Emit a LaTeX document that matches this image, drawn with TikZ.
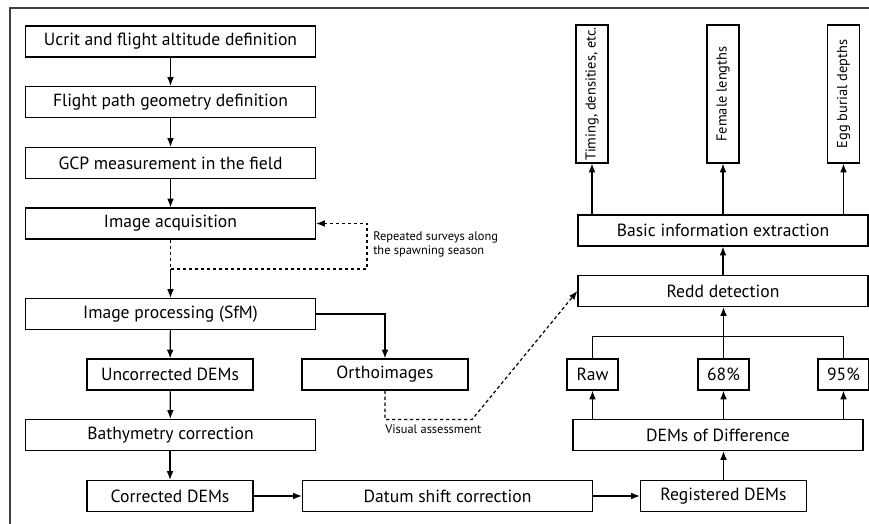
\documentclass[tikz,border=0pt]{standalone}
\usepackage{fontspec}
\setmainfont{PT Sans}
\usetikzlibrary{arrows.meta}

\begin{document}
\begin{tikzpicture}[x=0.75pt,y=-0.75pt,
	box/.style={draw, line width=0.9pt, minimum height=23.25pt, inner sep=0pt, font=\fontsize{13.2}{15}\selectfont},
	wide/.style={box, minimum width=217.5pt},
	mid/.style={box, minimum width=124.5pt},
	small/.style={box, minimum width=38.25pt},
	tall/.style={box, rotate=90, minimum width=103.5pt, minimum height=24pt, font=\fontsize{10.8}{12}\selectfont},
	arr/.style={line width=0.9pt, -{Latex[length=6.5pt,width=5pt]}},
	ln/.style={line width=0.9pt},
	dsh/.style={line width=0.9pt, dash pattern=on 2.5pt off 2pt},
	note/.style={font=\fontsize{9.3}{10.5}\selectfont, align=left, inner sep=0pt}]
	\useasboundingbox (0,0) rectangle (869,524);
	
	% frame
	\draw[line width=1.2pt, black!75] (869,8) -- (10,8) -- (10,524);
	
	% left column
	\node[wide] (ucrit) at (170.5,41.5) {Ucrit and flight altitude definition};
	\node[wide] (path) at (170.5,102) {Flight path geometry definition};
	\node[wide] (gcp) at (170.5,163) {GCP measurement in the field};
	\node[wide] (acq) at (170.5,223.5) {Image acquisition};
	\node[wide] (proc) at (170.5,314) {Image processing (SfM)};
	\node[mid] (uncorr) at (170,374.5) {Uncorrected DEMs};
	\node[mid] (ortho) at (385,374.5) {Orthoimages};
	\node[wide] (bathy) at (170.5,435) {Bathymetry correction};
	\node[mid] (corr) at (170,496) {Corrected DEMs};
	\node[wide] (datum) at (447.5,496) {Datum shift correction};
	
	% right column
	\node[mid] (regist) at (723.5,496) {Registered DEMs};
	\node[wide] (dod) at (718,435) {DEMs of Difference};
	\node[small] (raw) at (592.5,374.5) {Raw};
	\node[small] (p68) at (723.5,374.5) {68\%};
	\node[small] (p95) at (843.5,374.5) {95\%};
	\node[wide] (redd) at (723,291) {Redd detection};
	\node[wide] (basic) at (723,230.5) {Basic information extraction};
	\node[tall] (timing) at (592,94) {Timing, densities, etc.};
	\node[tall] (female) at (723,94) {Female lengths};
	\node[tall] (egg) at (843.5,94) {Egg burial depths};
	
	\coordinate (split) at (170.5,269);
	\node[note, anchor=north west] (repeat) at (373,231) {Repeated surveys along\\the spawning season};
	\node[note, anchor=north west] (visual) at (385,424) {Visual assessment};
	
	\draw[arr] (ucrit) -- (path);
	\draw[arr] (path) -- (gcp);
	\draw[arr] (gcp) -- (acq);
	\draw[dsh] (acq.south) -- (split);
	\draw[dsh, -{Latex[length=6.5pt,width=5pt]}] (split) -- ++(196.5,0) |- (acq.east);
	\draw[arr] (split) -- (proc.north);
	\draw[arr] (proc) -- (uncorr);
	\draw[arr] (proc.east) -| (ortho.north);
	\draw[arr] (uncorr) -- (bathy);
	\draw[arr] (bathy.south -| corr.north) -- (corr);
	\draw[arr] (corr) -- (datum);
	\draw[arr] (datum) -- (regist);
	\draw[arr] (regist.north) -- (dod.south -| regist.north);
	\draw[arr] (dod.north -| raw.south) -- (raw);
	\draw[arr] (dod.north -| p68.south) -- (p68);
	\draw[arr] (dod.north -| p95.south) -- (p95);
	\draw[ln] (raw.north) -- ++(0,-22) -| (p95.north);
	\draw[arr] (p68.north) -- (redd.south -| p68.north);
	\draw[arr] (redd) -- (basic);
	\draw[arr] (basic.north -| timing.west) -- (timing.west);
	\draw[arr] (basic.north -| female.west) -- (female.west);
	\draw[arr] (basic.north -| egg.west) -- (egg.west);
	\draw[dsh, -{Latex[length=6.5pt,width=5pt]}] (ortho.south) -- ++(0,29) -- ++(87,0) -- (redd.west);
\end{tikzpicture}
\end{document}
